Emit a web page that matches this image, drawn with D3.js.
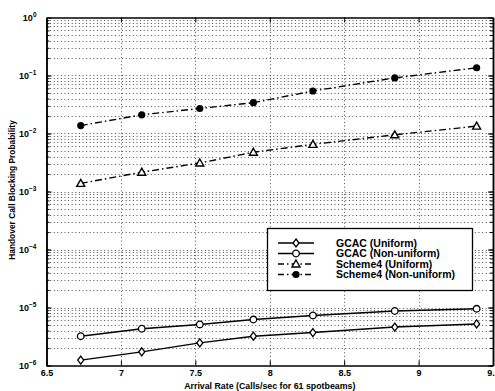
<!DOCTYPE html>
<html>
<head>
<meta charset="utf-8">
<script src="https://cdn.jsdelivr.net/npm/d3@7"></script>
<style>
  body { margin: 0; background: #fff; }
  text { font-family: "Liberation Sans", Arial, sans-serif; font-weight: bold; fill: #000; }
</style>
</head>
<body>
<div id="chart"></div>
<script>
"use strict";

const width = 495;
const height = 391;

// arrival rate (calls/sec for 61 spotbeams)
const arrival = [6.73, 7.14, 7.53, 7.89, 8.29, 8.84, 9.39];

const gcacUniform = [1.24e-6, 1.72e-6, 2.45e-6, 3.2e-6, 3.7e-6, 4.6e-6, 5.2e-6];
const gcacNonUniform = [3.2e-6, 4.3e-6, 5.1e-6, 6.2e-6, 7.3e-6, 8.7e-6, 9.5e-6];
const scheme4Uniform = [1.38e-3, 2.15e-3, 3.1e-3, 4.75e-3, 6.5e-3, 9.5e-3, 1.34e-2];
const scheme4NonUniform = [1.37e-2, 2.1e-2, 2.7e-2, 3.4e-2, 5.4e-2, 9.1e-2, 1.36e-1];

const xTicks = [6.5, 7, 7.5, 8, 8.5, 9, 9.5];
const xTickLabels = ["6.5", "7", "7.5", "8", "8.5", "9", "9.5"];
const yExponents = [0, -1, -2, -3, -4, -5, -6];

const seriesNames = ["GCAC (Uniform)", "GCAC (Non-uniform)", "Scheme4 (Uniform)", "Scheme4 (Non-uniform)"];
const seriesValues = [gcacUniform, gcacNonUniform, scheme4Uniform, scheme4NonUniform];
const seriesMarkers = ["diamond", "circle", "triangle", "dot"];
const seriesDashed = [false, false, true, true];

const margin = { left: 46.5, right: 2, top: 17.5, bottom: 25.5 };

const x = d3.scaleLinear()
  .domain([6.5, 9.5])
  .range([margin.left, width - margin.right]);

const y = d3.scaleLog()
  .domain([1e-6, 1])
  .range([height - margin.bottom, margin.top]);

const svg = d3.select("#chart").append("svg")
  .attr("width", width)
  .attr("height", height);

// grid
const minorY = [];
for (let e = -6; e < 0; e++) {
  for (let m = 1; m < 10; m++) {
    minorY.push(m * Math.pow(10, e));
  }
}

const grid = svg.append("g")
  .attr("stroke", "#222")
  .attr("stroke-width", 0.8)
  .attr("stroke-dasharray", "1 2.6");

grid.selectAll(".hgrid")
  .data(minorY.filter(v => v > 1e-6))
  .join("line")
  .attr("class", "hgrid")
  .attr("x1", x(6.5))
  .attr("x2", x(9.5))
  .attr("y1", d => Math.round(y(d)) + 0.5)
  .attr("y2", d => Math.round(y(d)) + 0.5);

grid.selectAll(".vgrid")
  .data(xTicks.slice(1, -1))
  .join("line")
  .attr("class", "vgrid")
  .attr("x1", d => Math.round(x(d)) + 0.5)
  .attr("x2", d => Math.round(x(d)) + 0.5)
  .attr("y1", y(1))
  .attr("y2", y(1e-6));

// axes (ticks inside, MATLAB style)
const bottomAxis = d3.axisBottom(x)
  .tickValues(xTicks)
  .tickFormat((d, i) => xTickLabels[i])
  .tickSizeInner(-5)
  .tickSizeOuter(0)
  .tickPadding(4);

const gx = svg.append("g")
  .attr("transform", "translate(0," + y(1e-6) + ")")
  .call(bottomAxis);
gx.select(".domain").attr("stroke", "#000").attr("stroke-width", 1.5);
gx.selectAll(".tick line").attr("stroke", "#000");
gx.selectAll(".tick text")
  .style("font-size", "9px")
  .style("font-weight", "bold")
  .attr("fill", "#000");

const topAxis = d3.axisTop(x)
  .tickValues(xTicks)
  .tickFormat("")
  .tickSizeInner(-5)
  .tickSizeOuter(0);

const gxt = svg.append("g")
  .attr("transform", "translate(0," + y(1) + ")")
  .call(topAxis);
gxt.select(".domain").attr("stroke", "#000").attr("stroke-width", 1.5);
gxt.selectAll(".tick line").attr("stroke", "#000");

function yAxisGroup(axisFn, xpos, size, values) {
  const g = svg.append("g")
    .attr("transform", "translate(" + xpos + ",0)")
    .call(axisFn(y).tickValues(values).tickFormat("").tickSizeInner(size).tickSizeOuter(0));
  g.select(".domain").attr("stroke", "#000").attr("stroke-width", 1.5);
  g.selectAll(".tick line").attr("stroke", "#000");
  return g;
}

const majorY = yExponents.map(e => Math.pow(10, e));
yAxisGroup(d3.axisLeft, x(6.5), -5, majorY);
yAxisGroup(d3.axisLeft, x(6.5), -3, minorY);
yAxisGroup(d3.axisRight, x(9.5), -5, majorY);
yAxisGroup(d3.axisRight, x(9.5), -3, minorY);

// y tick labels 10^n
const ylab = svg.append("g");
ylab.selectAll("text")
  .data(yExponents)
  .join("text")
  .attr("x", x(6.5) - 10)
  .attr("y", d => y(Math.pow(10, d)) + 3.5)
  .attr("text-anchor", "end")
  .style("font-size", "9px")
  .text("10")
  .append("tspan")
  .attr("dy", -4)
  .style("font-size", "6.5px")
  .text(d => d === 0 ? "0" : "\u2212" + (-d));

// axis titles
svg.append("text")
  .attr("x", (x(6.5) + x(9.5)) / 2)
  .attr("y", height - 2.5)
  .attr("text-anchor", "middle")
  .style("font-size", "8.8px")
  .text("Arrival Rate (Calls/sec for 61 spotbeams)");

svg.append("text")
  .attr("transform", "translate(15,190) rotate(-90)")
  .attr("text-anchor", "middle")
  .style("font-size", "8.4px")
  .text("Handover Call Blocking Probability");

// marker drawing
function drawMarker(sel, type) {
  if (type === "diamond") {
    sel.append("path")
      .attr("d", "M0,-4L3,0L0,4L-3,0Z")
      .attr("fill", "#fff").attr("stroke", "#000").attr("stroke-width", 1.3);
  } else if (type === "circle") {
    sel.append("circle")
      .attr("r", 3.3)
      .attr("fill", "#fff").attr("stroke", "#000").attr("stroke-width", 1.3);
  } else if (type === "triangle") {
    sel.append("path")
      .attr("d", "M0,-4L4,3L-4,3Z")
      .attr("fill", "#fff").attr("stroke", "#000").attr("stroke-width", 1.4);
  } else {
    sel.append("circle")
      .attr("r", 3.6)
      .attr("fill", "#000");
  }
}

const line = d3.line()
  .x((d, i) => x(arrival[i]))
  .y(d => y(d));

const plot = svg.append("g");

seriesValues.forEach(function(values, s) {
  plot.append("path")
    .datum(values)
    .attr("d", line)
    .attr("fill", "none")
    .attr("stroke", "#000")
    .attr("stroke-width", 1.4)
    .attr("stroke-dasharray", seriesDashed[s] ? "7 3 1.5 3" : null);

  plot.selectAll(".m" + s)
    .data(values)
    .join("g")
    .attr("class", "m" + s)
    .attr("transform", (d, i) => "translate(" + x(arrival[i]) + "," + y(d) + ")")
    .each(function() { drawMarker(d3.select(this), seriesMarkers[s]); });
});

// legend
const legend = svg.append("g");
legend.append("rect")
  .attr("x", 267.5)
  .attr("y", 228.5)
  .attr("width", 205)
  .attr("height", 62)
  .attr("fill", "#fff")
  .attr("stroke", "#000")
  .attr("stroke-width", 1.3);

const rowY = [243, 253.5, 264, 274.5];
seriesNames.forEach(function(name, s) {
  legend.append("line")
    .attr("x1", 278).attr("x2", 314)
    .attr("y1", rowY[s]).attr("y2", rowY[s])
    .attr("stroke", "#000")
    .attr("stroke-width", 1.4)
    .attr("stroke-dasharray", seriesDashed[s] ? "6 3 1.5 3" : null);
  legend.append("g")
    .attr("transform", "translate(296," + rowY[s] + ")")
    .call(drawMarker, seriesMarkers[s]);
  legend.append("text")
    .attr("x", 336)
    .attr("y", rowY[s] + 3.8)
    .style("font-size", "10.5px")
    .text(name);
});
</script>
</body>
</html>
